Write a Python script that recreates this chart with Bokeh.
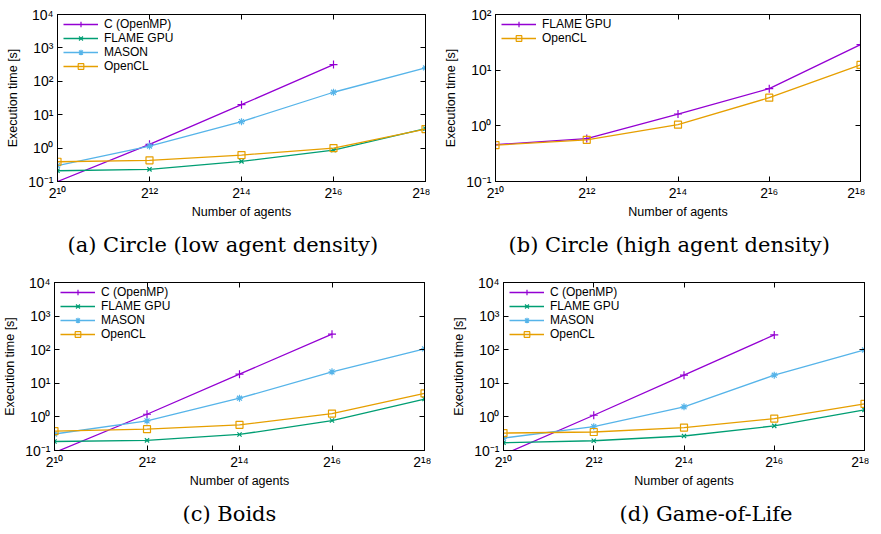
from bokeh.plotting import figure
from bokeh.layouts import column, row
from bokeh.models import FixedTicker, CustomJSTickFormatter, LogAxis, Legend, LegendItem
from bokeh.embed import file_html
from bokeh.resources import INLINE

# ---------------- data ----------------
agents = [1024, 4096, 16384, 65536, 262144]
x_ticks = [1024, 4096, 16384, 65536, 262144]
y_ticks_4 = [0.1, 1, 10, 100, 1000, 10000]
y_ticks_2 = [0.1, 1, 10, 100]

# (a) Circle (low agent density)
a_c = [0.1, 1.3, 20, 316]
a_flame = [0.21, 0.23, 0.40, 0.87, 3.8]
a_mason = [0.30, 1.15, 6.2, 47, 251]
a_opencl = [0.39, 0.43, 0.62, 1.0, 3.7]

# (b) Circle (high agent density)
b_flame = [0.46, 0.59, 1.63, 4.66, 28.8]
b_opencl = [0.45, 0.56, 1.05, 3.2, 12.4]

# (c) Boids
c_c = [0.087, 1.2, 18.7, 290]
c_flame = [0.185, 0.20, 0.30, 0.78, 3.4]
c_mason = [0.31, 0.76, 3.6, 21.9, 106]
c_opencl = [0.376, 0.43, 0.58, 1.26, 5.0]

# (d) Game-of-Life
d_c = [0.076, 1.12, 17.4, 275]
d_flame = [0.17, 0.195, 0.27, 0.54, 1.62]
d_mason = [0.234, 0.51, 2.0, 17.4, 98]
d_opencl = [0.33, 0.355, 0.48, 0.89, 2.45]

captions = ["(a) Circle (low agent density)", "(b) Circle (high agent density)",
            "(c) Boids", "(d) Game-of-Life"]

PURPLE = "#9400d3"
GREEN = "#009e73"
BLUE = "#56b4e9"
ORANGE = "#e69f00"
SANS = "Liberation Sans"

SUP_JS = r"""
const sup = {'0':'\u2070','1':'\u00b9','2':'\u00b2','3':'\u00b3','4':'\u2074',
             '5':'\u2075','6':'\u2076','7':'\u2077','8':'\u2078','9':'\u2079','-':'\u207b'};
"""
fmt10 = CustomJSTickFormatter(code=SUP_JS + r"""
const e = Math.round(Math.log10(tick));
return '10' + String(e).split('').map(c => sup[c]).join('');
""")
fmt2 = CustomJSTickFormatter(code=SUP_JS + r"""
const e = Math.round(Math.log2(tick));
return '2' + String(e).split('').map(c => sup[c]).join('');
""")
blank = CustomJSTickFormatter(code="return '';")


def style_axis(ax):
    ax.axis_line_color = "black"
    ax.axis_line_width = 1
    ax.major_tick_in = 5
    ax.major_tick_out = 0
    ax.major_tick_line_color = "black"
    ax.minor_tick_line_color = None
    ax.major_label_text_font = SANS
    ax.major_label_text_font_size = "14px"
    ax.major_label_text_color = "black"
    ax.axis_label_text_font = SANS
    ax.axis_label_text_font_style = "normal"
    ax.axis_label_text_font_size = "12.5px"
    ax.axis_label_text_color = "black"


def make_fig(caption, cap_offset, ymax, yticks, fw, fh, bl, br, bt, bb):
    p = figure(x_axis_type="log", y_axis_type="log",
               x_range=(2 ** 10, 2 ** 18), y_range=(0.1, ymax),
               frame_width=fw, frame_height=fh,
               min_border_left=bl, min_border_right=br,
               min_border_top=bt, min_border_bottom=bb,
               output_backend="svg", toolbar_location=None,
               title=caption, title_location="below")
    p.grid.visible = False
    p.outline_line_color = "black"
    p.outline_line_width = 1
    p.background_fill_color = "white"
    p.border_fill_color = "white"

    p.xaxis.ticker = FixedTicker(ticks=x_ticks)
    p.xaxis.formatter = fmt2
    p.xaxis.axis_label = "Number of agents"
    p.xaxis.axis_label_standoff = 1
    p.xaxis.major_label_standoff = 3
    p.yaxis.ticker = FixedTicker(ticks=yticks)
    p.yaxis.formatter = fmt10
    p.yaxis.axis_label = "Execution time [s]"
    p.yaxis.axis_label_standoff = 5
    p.yaxis.major_label_standoff = 4
    style_axis(p.xaxis[0])
    style_axis(p.yaxis[0])

    ra = LogAxis(ticker=FixedTicker(ticks=yticks), formatter=blank)
    style_axis(ra)
    ra.major_label_standoff = 0
    p.add_layout(ra, "right")
    ta = LogAxis(ticker=FixedTicker(ticks=x_ticks), formatter=blank)
    style_axis(ta)
    ta.major_label_standoff = 0
    p.add_layout(ta, "above")

    p.title.text_font = "DejaVu Serif"
    p.title.text_font_style = "normal"
    p.title.text_font_size = "21px"
    p.title.align = "left"
    p.title.offset = cap_offset
    p.title.standoff = 18
    p.title.text_color = "black"
    return p


def add_series(p, fh, idx, xs, ys, color, marker, label, size):
    xs = xs[:len(ys)]
    r1 = p.line(xs, ys, line_color=color, line_width=1.3)
    r2 = p.scatter(xs, ys, marker=marker, size=size, line_color=color,
                   fill_color=None, line_width=1.2)
    # one legend row per series (gnuplot-like tight key spacing)
    row_h = 14
    center = 10 + 14 * idx
    lg = Legend(items=[LegendItem(label=label, renderers=[r1, r2])],
                location=(6, fh - (center + row_h / 2)))
    lg.background_fill_alpha = 0
    lg.border_line_color = None
    lg.label_text_font = SANS
    lg.label_text_font_size = "12px"
    lg.label_text_color = "black"
    lg.glyph_width = 35
    lg.glyph_height = row_h
    lg.label_height = row_h
    lg.spacing = 0
    lg.padding = 0
    lg.margin = 0
    lg.label_standoff = 6
    p.add_layout(lg)


four = [("C (OpenMP)", PURPLE, "cross", 8),
        ("FLAME GPU", GREEN, "x", 6),
        ("MASON", BLUE, "asterisk", 7),
        ("OpenCL", ORANGE, "square", 7)]

pa = make_fig(captions[0], 10, 1e4, y_ticks_4, 368, 167, 57, 5, 14, 81)
for i, ((lab, col, mk, sz), ys) in enumerate(zip(four, [a_c, a_flame, a_mason, a_opencl])):
    add_series(pa, 167, i, agents, ys, col, mk, lab, sz)

pb = make_fig(captions[1], 13, 1e2, y_ticks_2, 365, 167, 65, 5, 14, 81)
add_series(pb, 167, 0, agents, b_flame, PURPLE, "cross", "FLAME GPU", 8)
add_series(pb, 167, 1, agents, b_opencl, ORANGE, "square", "OpenCL", 7)

pc = make_fig(captions[2], 128, 1e4, y_ticks_4, 370, 168, 50, 7, 17, 68)
for i, ((lab, col, mk, sz), ys) in enumerate(zip(four, [c_c, c_flame, c_mason, c_opencl])):
    add_series(pc, 168, i, agents, ys, col, mk, lab, sz)

pd_ = make_fig(captions[3], 116, 1e4, y_ticks_4, 361, 168, 72, 5, 17, 68)
for i, ((lab, col, mk, sz), ys) in enumerate(zip(four, [d_c, d_flame, d_mason, d_opencl])):
    add_series(pd_, 168, i, agents, ys, col, mk, lab, sz)

layout = column(row(pa, pb), row(pc, pd_))
open("out.html", "w", encoding="utf-8").write(file_html(layout, INLINE))
